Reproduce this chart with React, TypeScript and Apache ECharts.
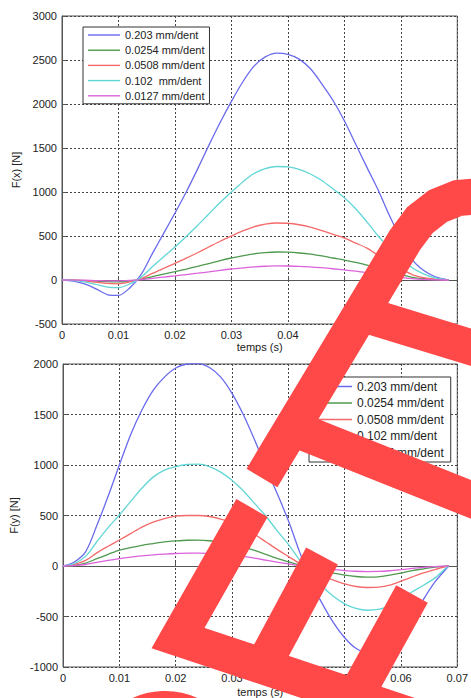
import React, { useEffect, useRef } from "react";
import * as echarts from "echarts";

// time samples (s)
const times = [0, 0.002, 0.004, 0.006, 0.008, 0.01, 0.012, 0.014, 0.016, 0.018, 0.02, 0.022, 0.024, 0.026, 0.028, 0.03, 0.032, 0.034, 0.036, 0.038, 0.04, 0.042, 0.044, 0.046, 0.048, 0.05, 0.052, 0.054, 0.056, 0.058, 0.06, 0.062, 0.064, 0.066, 0.068, 0.0685];

// F(x) [N]
const fx203 = [0, -12, -45, -100, -165, -175, -90, 60, 300, 530, 760, 1000, 1260, 1530, 1790, 2030, 2250, 2430, 2535, 2578, 2565, 2510, 2400, 2230, 2040, 1810, 1545, 1280, 1020, 730, 470, 235, 110, 40, 5, 0];
const fx0254 = [0, -2, -6, -12, -19, -21, -11, 7, 38, 66, 94, 124, 155, 187, 220, 250, 275, 298, 312, 318, 316, 307, 293, 273, 250, 227, 200, 168, 125, 90, 62, 30, 14, 5, 1, 0];
const fx0508 = [0, -3, -11, -25, -39, -43, -22, 14, 75, 132, 188, 248, 310, 375, 440, 500, 558, 605, 635, 648, 645, 628, 600, 562, 518, 477, 420, 362, 280, 200, 130, 62, 28, 10, 2, 0];
const fx102 = [0, -6, -22, -50, -80, -87, -45, 30, 150, 265, 375, 495, 620, 750, 880, 1000, 1115, 1210, 1265, 1290, 1285, 1258, 1205, 1130, 1035, 935, 810, 660, 500, 360, 245, 140, 70, 25, 4, 0];
const fx0127 = [0, -1, -3, -6, -9, -10, -5, 4, 19, 33, 47, 62, 77, 93, 110, 125, 137, 148, 156, 160, 159, 155, 148, 140, 128, 114, 100, 82, 62, 45, 30, 15, 6, 2, 0, 0];

// F(y) [N]
const fy203 = [0, 40, 140, 400, 690, 1000, 1300, 1545, 1740, 1870, 1960, 2000, 2005, 1965, 1870, 1710, 1500, 1250, 980, 720, 450, 140, -150, -370, -560, -710, -815, -860, -850, -800, -710, -520, -330, -160, -30, 0];
const fy0254 = [0, 7, 28, 72, 115, 158, 182, 205, 222, 238, 248, 255, 256, 250, 236, 216, 190, 155, 115, 75, 40, 10, -20, -48, -70, -90, -104, -110, -108, -90, -70, -45, -28, -12, -2, 0];
const fy0508 = [0, 15, 55, 130, 195, 257, 320, 385, 435, 470, 493, 500, 500, 490, 465, 430, 380, 315, 240, 165, 95, 25, -40, -95, -140, -178, -203, -213, -210, -190, -150, -108, -68, -35, -5, 0];
const fy102 = [0, 25, 95, 240, 380, 505, 640, 770, 880, 950, 985, 1005, 1008, 985, 930, 850, 745, 620, 495, 350, 215, 60, -75, -200, -300, -375, -420, -438, -430, -395, -330, -255, -190, -120, -20, 0];
const fy0127 = [0, 4, 15, 36, 55, 72, 88, 100, 110, 118, 124, 127, 128, 125, 118, 108, 95, 78, 58, 38, 20, 5, -10, -24, -35, -45, -52, -55, -54, -47, -36, -24, -14, -6, -1, 0];

const namesTop = ["0.203 mm/dent", "0.0254 mm/dent", "0.0508 mm/dent", "0.102\u00a0 mm/dent", "0.0127 mm/dent"];
const namesBottom = ["0.203 mm/dent", "0.0254 mm/dent", "0.0508 mm/dent", "0.102 mm/dent", "0.0127 mm/dent"];
const colors = ["#6a6aee", "#4f9a4f", "#f46a6a", "#62d6d6", "#dc62dc"];

const xTicks = { min: 0, max: 0.07, interval: 0.01 };
const yTopTicks = { min: -500, max: 3000, interval: 500 };
const yBottomTicks = { min: -1000, max: 2000, interval: 500 };

const FONT = "'Liberation Sans', Arial, Helvetica, sans-serif";
const RED = "#ff4848";

function xAxis(gridIndex: number, nameGap: number) {
  return {
    type: "value",
    gridIndex,
    ...xTicks,
    name: "temps (s)",
    nameLocation: "middle",
    nameGap,
    nameTextStyle: { fontSize: 11, color: "#222", fontFamily: FONT },
    axisLine: { show: true, lineStyle: { color: "#555", width: 1 } },
    axisTick: { show: true, inside: true, length: 4, lineStyle: { color: "#555" } },
    axisLabel: {
      margin: 5,
      fontSize: 11,
      color: "#222",
      fontFamily: FONT,
      formatter: (v: number) => String(Number(v.toFixed(2))),
    },
    splitLine: { show: true, lineStyle: { color: "#444", type: [2, 2], width: 1 } },
  };
}

function yAxis(gridIndex: number, name: string, ticks: any, nameGap: number) {
  return {
    type: "value",
    gridIndex,
    ...ticks,
    name,
    nameLocation: "middle",
    nameRotate: 90,
    nameGap,
    nameTextStyle: { fontSize: 11, color: "#222", fontFamily: FONT },
    axisLine: { show: true, lineStyle: { color: "#555", width: 1 } },
    axisTick: { show: true, inside: true, length: 4, lineStyle: { color: "#555" } },
    axisLabel: { margin: 5, fontSize: 11, color: "#222", fontFamily: FONT, formatter: (v: number) => String(v) },
    splitLine: { show: true, lineStyle: { color: "#444", type: [2, 2], width: 1 } },
  };
}

function lineSeries(name: string, values: number[], color: string, idx: number) {
  return {
    type: "line",
    name,
    xAxisIndex: idx,
    yAxisIndex: idx,
    symbol: "none",
    smooth: 0.3,
    data: times.map((t, i) => [t, values[i]]),
    lineStyle: { color, width: 1.3 },
    itemStyle: { color },
    z: 3,
  };
}

const topValues = [fx203, fx0254, fx0508, fx102, fx0127];
const bottomValues = [fy203, fy0254, fy0508, fy102, fy0127];

const wmStyle = { stroke: RED, lineWidth: 36, fill: null as any, lineJoin: "miter", lineCap: "butt" };

const watermark = [
  { type: "circle", shape: { cx: 165, cy: 770, r: 62 }, style: { ...wmStyle, lineWidth: 34 } },
  { type: "polyline", shape: { points: [[252, 508], [178, 638], [430, 722]] }, style: wmStyle },
  { type: "polyline", shape: { points: [[322, 556], [262, 668]] }, style: wmStyle },
  { type: "polyline", shape: { points: [[412, 594], [348, 710]] }, style: wmStyle },
  { type: "polyline", shape: { points: [[262, 478], [405, 240], [420, 220], [438, 206], [458, 198], [480, 196]] }, style: wmStyle },
  { type: "polyline", shape: { points: [[292, 428], [480, 503]] }, style: wmStyle },
  { type: "polyline", shape: { points: [[356, 312], [480, 350]] }, style: wmStyle },
].map((g) => ({ ...g, z: 100, silent: true }));

const option = {
  animation: false,
  backgroundColor: "#ffffff",
  textStyle: { fontFamily: FONT },
  color: colors,
  grid: [
    { left: 62, top: 16, width: 397, height: 308, show: true, borderColor: "#555", borderWidth: 1, backgroundColor: "#fff" },
    { left: 63, top: 364, width: 398, height: 303, show: true, borderColor: "#555", borderWidth: 1, backgroundColor: "#fff" },
  ],
  xAxis: [xAxis(0, 17), xAxis(1, 19)],
  yAxis: [yAxis(0, "F(x) [N]", yTopTicks, 35), yAxis(1, "F(y) [N]", yBottomTicks, 41)],
  legend: [
    {
      data: namesTop,
      orient: "vertical",
      left: 83,
      top: 27,
      padding: [1, 5, 1, 5],
      itemGap: 1.2,
      itemWidth: 32,
      itemHeight: 1.4,
      icon: "rect",
      backgroundColor: "#fff",
      borderColor: "#333",
      borderWidth: 1,
      borderRadius: 0,
      textStyle: { fontSize: 11, lineHeight: 14, color: "#222", fontFamily: FONT },
      z: 10,
    },
    {
      data: namesBottom,
      orient: "vertical",
      left: 309,
      top: 377,
      padding: [2, 7, 2, 8],
      itemGap: 1.5,
      itemWidth: 35,
      itemHeight: 1.4,
      icon: "rect",
      backgroundColor: "#fff",
      borderColor: "#333",
      borderWidth: 1,
      borderRadius: 0,
      textStyle: { fontSize: 12, lineHeight: 15, color: "#222", fontFamily: FONT },
      z: 10,
    },
  ],
  series: [
    ...topValues.map((v, i) => lineSeries(namesTop[i], v, colors[i], 0)),
    ...bottomValues.map((v, i) => lineSeries(namesBottom[i], v, colors[i], 1)),
  ],
  graphic: watermark,
};

export default function App() {
  const ref = useRef<HTMLDivElement>(null);
  useEffect(() => {
    if (!ref.current) return;
    const chart = echarts.init(ref.current, null, { renderer: "svg" });
    chart.setOption(option as any);
    return () => chart.dispose();
  }, []);
  return <div ref={ref} style={{ position: "fixed", left: 0, top: 0, width: 471, height: 698, background: "#fff" }} />;
}
